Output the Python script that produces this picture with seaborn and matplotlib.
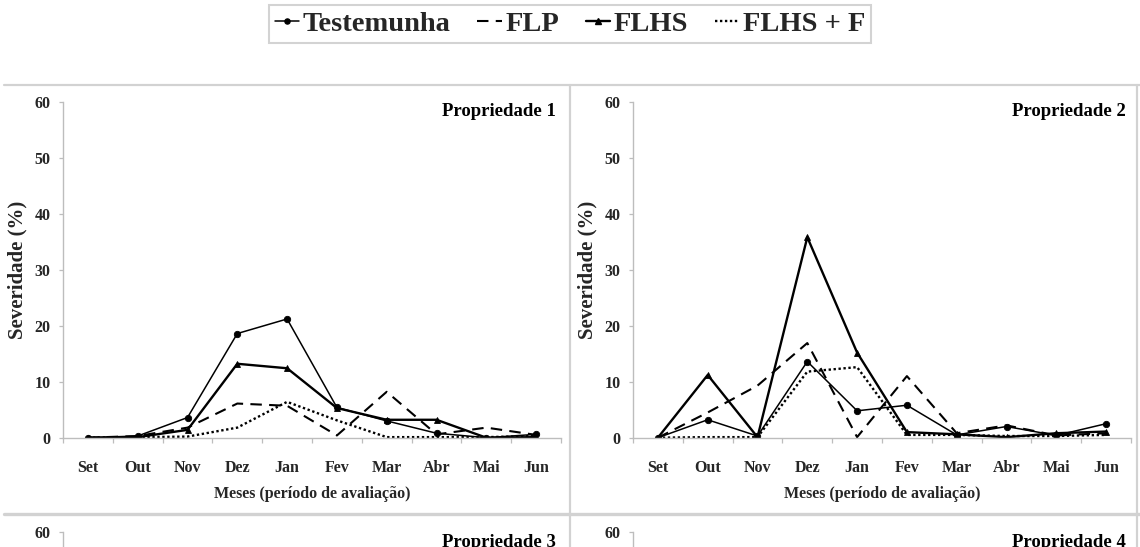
import numpy as np
import pandas as pd
import matplotlib
matplotlib.use("Agg")
import matplotlib.pyplot as plt
from matplotlib.lines import Line2D
import seaborn as sns

# ---------------- data ----------------
months = ["Set", "Out", "Nov", "Dez", "Jan", "Fev", "Mar", "Abr", "Mai", "Jun"]
series_names = ["Testemunha", "FLP", "FLHS", "FLHS + F"]

p1_testemunha = [0.0, 0.3, 3.6, 18.6, 21.2, 5.4, 3.0, 0.8, 0.0, 0.6]
p1_flp = [0.0, 0.3, 1.8, 6.1, 5.7, 0.4, 8.2, 0.6, 1.8, 0.5]
p1_flhs = [0.0, 0.1, 1.4, 13.2, 12.4, 5.3, 3.2, 3.2, 0.0, 0.1]
p1_flhsf = [0.0, 0.1, 0.2, 1.8, 6.4, 3.1, 0.1, 0.1, 0.1, 0.3]

p2_testemunha = [0.0, 3.2, 0.3, 13.6, 4.8, 5.8, 0.5, 2.0, 0.4, 2.5]
p2_flp = [0.0, 4.5, 9.3, 16.9, 0.1, 11.0, 0.8, 2.2, 0.4, 0.8]
p2_flhs = [0.0, 11.2, 0.1, 35.8, 15.2, 1.0, 0.6, 0.1, 0.8, 1.1]
p2_flhsf = [0.0, 0.1, 0.1, 11.8, 12.6, 0.5, 0.5, 0.3, 0.3, 0.5]

panel_titles = ["Propriedade 1", "Propriedade 2", "Propriedade 3", "Propriedade 4"]
yticks = [0, 10, 20, 30, 40, 50, 60]
ylabel = "Severidade (%)"
xlabel = "Meses (período de avaliação)"

# ---------------- style ----------------
sns.set_theme(style="white")
plt.rcParams["font.family"] = ["Liberation Serif", "DejaVu Serif"]
plt.rcParams["font.weight"] = "bold"
plt.rcParams["axes.labelweight"] = "bold"

styles = {
    "Testemunha": dict(linestyle="-", linewidth=1.1, marker="o", markersize=4.6),
    "FLP": dict(linestyle=(0, (5.5, 3.5)), linewidth=1.5, marker=None),
    "FLHS": dict(linestyle="-", linewidth=1.7, marker="^", markersize=4.6),
    "FLHS + F": dict(linestyle=(0, (1, 1.1)), linewidth=1.7, marker=None),
}

W, H = 1140, 547
fig = plt.figure(figsize=(W / 100, H / 100), dpi=100)

def px_axes(x0, x1, y_top, y_bot):
    return fig.add_axes([x0 / W, 1 - y_bot / H, (x1 - x0) / W, (y_bot - y_top) / H])

axis_gray = "#bdbdbd"
TICK_FS = 11.5

def style_axes(ax, title):
    ax.set_xlim(-0.5, len(months) - 0.5)
    ax.set_ylim(0, 60)
    ax.set_yticks(yticks)
    ax.set_yticklabels([str(v) for v in yticks], fontsize=TICK_FS, fontweight="bold")
    ax.set_xticks(range(len(months)))
    ax.set_xticklabels(months, fontsize=TICK_FS, fontweight="bold")
    ax.set_xticks(np.arange(-0.5, len(months), 1.0), minor=True)
    ax.set_ylabel(ylabel, fontsize=15, fontweight="bold", labelpad=5)
    ax.set_xlabel(xlabel, fontsize=11.5, fontweight="bold", labelpad=7)
    ax.tick_params(axis="x", which="major", length=0, pad=16)
    ax.tick_params(axis="x", which="minor", length=3.6, width=0.9,
                   color=axis_gray, direction="out", bottom=True)
    ax.tick_params(axis="y", which="major", length=3, width=0.9,
                   color=axis_gray, direction="out", pad=6, left=True)
    for s in ["top", "right"]:
        ax.spines[s].set_visible(False)
    for s in ["left", "bottom"]:
        ax.spines[s].set_color(axis_gray)
        ax.spines[s].set_linewidth(1.0)
    ax.text(0.99, 0.97, title, transform=ax.transAxes, ha="right", va="center",
            fontsize=13.5, fontweight="bold", color="black")
    ax.set_facecolor("white")

def draw_series(ax, data):
    x = np.arange(len(months))
    for name, vals in zip(series_names, data):
        st = dict(styles[name])
        kw = dict(linestyle=st["linestyle"], linewidth=st["linewidth"])
        if st["marker"]:
            kw.update(marker=st["marker"], markersize=st["markersize"],
                      markeredgecolor="black", markerfacecolor="black",
                      markeredgewidth=0.6)
        df = pd.DataFrame({"mes": x, "sev": vals})
        sns.lineplot(data=df, x="mes", y="sev", ax=ax, color="black",
                     legend=False, **kw)

ax1 = px_axes(63, 561, 101.7, 437.7)
draw_series(ax1, [p1_testemunha, p1_flp, p1_flhs, p1_flhsf])
style_axes(ax1, panel_titles[0])

ax2 = px_axes(633, 1131, 101.7, 437.7)
draw_series(ax2, [p2_testemunha, p2_flp, p2_flhs, p2_flhsf])
style_axes(ax2, panel_titles[1])

# lower panels: cropped at the bottom edge of the picture, as in the source
ax3 = px_axes(63, 561, 532, 868)
style_axes(ax3, panel_titles[2])
ax4 = px_axes(633, 1131, 532, 868)
style_axes(ax4, panel_titles[3])

# panel frame lines
border = "#d2d2d2"
def fline(x0, y0, x1, y1, lw=1.6):
    fig.add_artist(Line2D([x0 / W, x1 / W], [1 - y0 / H, 1 - y1 / H],
                          color=border, linewidth=lw, transform=fig.transFigure))
fline(4, 85, 1140, 85)
fline(4, 514, 1140, 514, lw=2.4)
fline(570, 85, 570, 547)
fline(1137, 85, 1137, 547)

# legend
handles = []
for name in series_names:
    st = styles[name]
    h = Line2D([0], [0], color="black", linestyle=st["linestyle"],
               linewidth=st["linewidth"], marker=st["marker"],
               markersize=(st.get("markersize", 0) or 0) * 0.8,
               markerfacecolor="black", markeredgecolor="black")
    handles.append(h)
leg = fig.legend(handles, series_names, loc="center", bbox_to_anchor=(570 / W, 1 - 24 / H),
                 ncol=4, frameon=True, fancybox=False, edgecolor="#c8c8c8",
                 prop=dict(family="Liberation Serif", weight="bold", size=20.5),
                 handlelength=0.85, handletextpad=0.12, columnspacing=0.95,
                 borderpad=0.2, borderaxespad=0)
leg.get_frame().set_linewidth(1.5)

fig.savefig("out.png", dpi=100, facecolor="white")
